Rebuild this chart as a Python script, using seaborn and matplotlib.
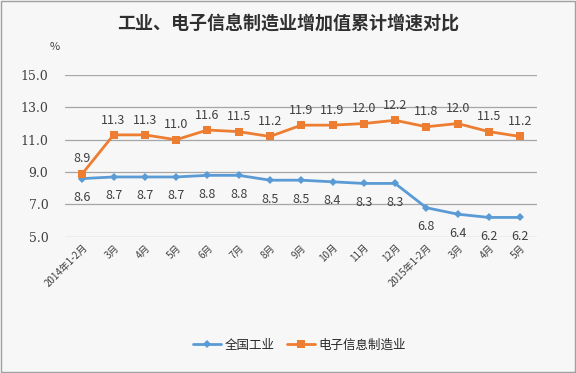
import matplotlib
matplotlib.use("Agg")
import matplotlib.pyplot as plt
import seaborn as sns
import pandas as pd

months = ["2014年1-2月", "3月", "4月", "5月", "6月", "7月", "8月", "9月",
          "10月", "11月", "12月", "2015年1-2月", "3月", "4月", "5月"]
industry = [8.6, 8.7, 8.7, 8.7, 8.8, 8.8, 8.5, 8.5, 8.4, 8.3, 8.3, 6.8, 6.4, 6.2, 6.2]
electronics = [8.9, 11.3, 11.3, 11.0, 11.6, 11.5, 11.2, 11.9, 11.9, 12.0, 12.2, 11.8, 12.0, 11.5, 11.2]

sns.set_theme(style="white")
plt.rcParams['font.family'] = ['Noto Sans CJK SC', 'DejaVu Sans']

df = pd.DataFrame({"x": range(len(months)), "全国工业": industry, "电子信息制造业": electronics})
long_df = df.melt(id_vars="x", var_name="series", value_name="value")

fig = plt.figure(figsize=(5.76, 3.73), dpi=100, facecolor="#f7f7f7")
ax = fig.add_axes([0.113, 0.365, 0.82, 0.434])
ax.set_facecolor("#f7f7f7")

colors = {"全国工业": "#5b9bd5", "电子信息制造业": "#ed7d31"}
markers = {"全国工业": "D", "电子信息制造业": "s"}
sizes = {"全国工业": 4, "电子信息制造业": 6}
for name in ["全国工业", "电子信息制造业"]:
    sub = long_df[long_df["series"] == name]
    sns.lineplot(data=sub, x="x", y="value", ax=ax, color=colors[name], marker=markers[name],
                 markersize=sizes[name], markeredgewidth=0, linewidth=2, label=name)

# data labels: industry below, electronics above
for i, v in enumerate(industry):
    ax.annotate(f"{v:.1f}", (i, v), xytext=(0, -9), textcoords="offset points",
                ha="center", va="top", fontsize=9, color="#404040")
for i, v in enumerate(electronics):
    ax.annotate(f"{v:.1f}", (i, v), xytext=(0, 6), textcoords="offset points",
                ha="center", va="bottom", fontsize=9, color="#404040")

ax.set_ylim(5, 15)
ax.set_xlim(-0.55, len(months) - 0.45)
ax.set_yticks([5, 7, 9, 11, 13, 15])
ax.set_yticklabels([f"{t:.1f}" for t in [5, 7, 9, 11, 13, 15]], family="DejaVu Serif",
                   fontsize=9, color="#404040")
ax.yaxis.grid(True, color="#a6a6a6", linewidth=0.9)
ax.tick_params(axis="y", length=0, pad=12)
ax.set_xticks(range(len(months)))
ax.set_xticklabels(months, rotation=45, ha="right", rotation_mode="anchor", fontsize=7, color="#404040")
ax.tick_params(axis="x", length=0, pad=4)
ax.set_xlabel("")
ax.set_ylabel("")
for s in ax.spines.values():
    s.set_visible(False)

fig.text(0.5, 0.935, "工业、电子信息制造业增加值累计增速对比", ha="center", va="center",
         fontsize=13, fontweight="bold", color="#303030")
fig.text(0.095, 0.875, "%", ha="center", va="center", fontsize=8, color="#404040")

ax.legend(loc="center", bbox_to_anchor=(0.52, 0.075), bbox_transform=fig.transFigure, ncol=2,
          frameon=False, fontsize=9, handlelength=2.2, handletextpad=0.3, columnspacing=1.0)

border = plt.Rectangle((0.002, 0.004), 0.996, 0.993, transform=fig.transFigure, fill=False,
                       edgecolor="#a0a0a0", linewidth=1)
fig.patches.append(border)

fig.savefig("out.png", dpi=100, facecolor=fig.get_facecolor())
